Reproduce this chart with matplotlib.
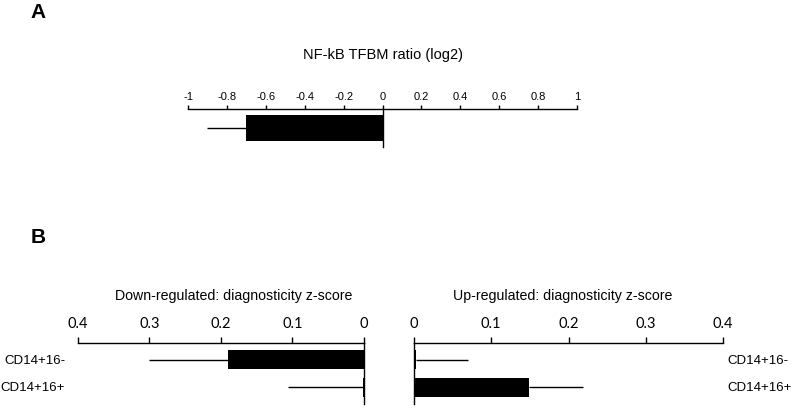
import matplotlib
matplotlib.use("Agg")
import matplotlib.pyplot as plt

plt.rcParams['font.family'] = ['Liberation Sans', 'DejaVu Sans']

# Panel A data
a_title = "NF-kB TFBM ratio (log2)"
a_value = [-0.7]
a_err = [0.2]
a_ticks = [-1, -0.8, -0.6, -0.4, -0.2, 0, 0.2, 0.4, 0.6, 0.8, 1]
a_ticklabels = ["-1", "-0.8", "-0.6", "-0.4", "-0.2", "0", "0.2", "0.4", "0.6", "0.8", "1"]

# Panel B data
categories = ["CD14+16-", "CD14+16+"]
down_values = [0.19, 0.002]
down_err = [0.11, 0.104]
up_values = [0.002, 0.149]
up_err = [0.068, 0.07]
b_ticks = [0, 0.1, 0.2, 0.3, 0.4]
b_ticklabels = ["0", "0.1", "0.2", "0.3", "0.4"]
down_title = "Down-regulated: diagnosticity z-score"
up_title = "Up-regulated: diagnosticity z-score"

W, H = 800, 410
fig = plt.figure(figsize=(W / 100, H / 100), dpi=100)

def rect(x0, x1, ytop, ybot):
    return [x0 / W, 1 - ybot / H, (x1 - x0) / W, (ybot - ytop) / H]

def style(ax, ticklen, labelsize, pad, tickfont=None):
    ax.spines['bottom'].set_visible(False)
    ax.spines['right'].set_visible(False)
    ax.spines['left'].set_position(('data', 0))
    for s in ('top', 'left'):
        ax.spines[s].set_linewidth(1.0)
    ax.xaxis.tick_top()
    ax.tick_params(axis='x', direction='out', length=ticklen, width=1.0,
                   labelsize=labelsize, pad=pad)
    ax.set_yticks([])
    ax.patch.set_visible(False)
    if tickfont:
        for t in ax.get_xticklabels():
            t.set_family(tickfont)

# Panel A
axA = fig.add_axes(rect(188, 577, 110, 148))
axA.barh([0], a_value, height=0.68, color='black', zorder=2)
axA.errorbar(a_value, [0], xerr=[a_err, [0] * len(a_err)], fmt='none',
             ecolor='black', elinewidth=1.0, capsize=0, zorder=1)
axA.set_xlim(-1, 1)
axA.set_ylim(-0.5, 0.5)
axA.set_xticks(a_ticks)
axA.set_xticklabels(a_ticklabels)
style(axA, 3, 8, 3)
fig.text(383 / W, 1 - 55 / H, a_title, ha='center', va='center', fontsize=10.5)

# Panel B left (down-regulated), inverted x
axL = fig.add_axes(rect(78, 364, 344, 405))
ypos = list(range(len(categories)))
axL.barh(ypos, down_values, height=0.68, color='black', zorder=2)
axL.errorbar(down_values, ypos, xerr=[[0] * len(down_err), down_err], fmt='none',
             ecolor='black', elinewidth=1.0, capsize=0, zorder=1)
axL.set_xlim(0.4, 0)
axL.set_ylim(1.59, -0.59)
axL.set_xticks(b_ticks)
axL.set_xticklabels(b_ticklabels)
style(axL, 4, 10.5, 5, 'Lato')
fig.text(234 / W, 1 - 296 / H, down_title, ha='center', va='center', fontsize=10.2)
for y, c in zip(ypos, categories):
    axL.text(-0.045, y, c, transform=axL.get_yaxis_transform(), ha='right',
             va='center', fontsize=9.5)

# Panel B right (up-regulated)
axR = fig.add_axes(rect(414, 723, 344, 405))
axR.barh(ypos, up_values, height=0.68, color='black', zorder=2)
axR.errorbar(up_values, ypos, xerr=[[0] * len(up_err), up_err], fmt='none',
             ecolor='black', elinewidth=1.0, capsize=0, zorder=1)
axR.set_xlim(0, 0.4)
axR.set_ylim(1.59, -0.59)
axR.set_xticks(b_ticks)
axR.set_xticklabels(b_ticklabels)
style(axR, 4, 10.5, 5, 'Lato')
fig.text(563 / W, 1 - 296 / H, up_title, ha='center', va='center', fontsize=10.2)
for y, c in zip(ypos, categories):
    axR.text(1.013, y, c, transform=axR.get_yaxis_transform(), ha='left',
             va='center', fontsize=9.5)

# Panel letters
fig.text(38 / W, 1 - 13 / H, "A", ha='center', va='center', fontsize=15, fontweight='bold')
fig.text(38 / W, 1 - 238 / H, "B", ha='center', va='center', fontsize=15, fontweight='bold')

fig.savefig("out.png", dpi=100, facecolor='white')
